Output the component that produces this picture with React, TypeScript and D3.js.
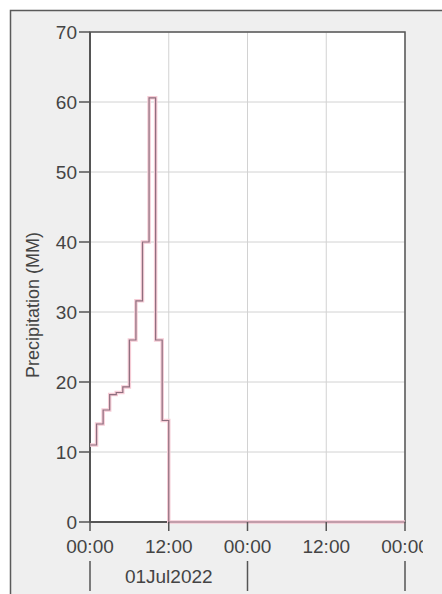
import React from "react";
import * as d3 from "d3";

const hours = [0, 1, 2, 3, 4, 5, 6, 7, 8, 9, 10, 11, 12, 48];
const precip = [11, 14, 16, 18.2, 18.5, 19.3, 26, 31.6, 40, 60.6, 26, 14.5, 0, 0];
const yTicks = [0, 10, 20, 30, 40, 50, 60, 70];
const xTickHours = [0, 12, 24, 36, 48];
const xTickLabels = ["00:00", "12:00", "00:00", "12:00", "00:00"];
const dateLabel = "01Jul2022";
const dayBoundaries = [0, 24, 48];
const yTitle = "Precipitation (MM)";

export default function App() {
  const W = 442, H = 594;
  const left = 90, right = 405, top = 32, bottom = 522;
  const x = d3.scaleLinear().domain([0, 48]).range([left, right]);
  const y = d3.scaleLinear().domain([0, 70]).range([bottom, top]);
  const pts: [number, number][] = hours.map((h, i) => [h, precip[i]]);
  const line = d3.line<[number, number]>()
    .x(d => x(d[0]))
    .y(d => y(d[1]))
    .curve(d3.curveStepAfter);
  const path = line(pts) || "";
  const font = "'Liberation Sans', Arial, sans-serif";
  return (
    <svg width={W} height={H} style={{ position: "absolute", left: 0, top: 0 }}>
      <defs>
        <clipPath id="labclip">
          <rect x={0} y={0} width={423} height={H} />
        </clipPath>
      </defs>
      <rect x={0} y={0} width={W} height={H} fill="#ffffff" />
      <rect x={10.5} y={10.5} width={440} height={600} fill="#efefef" stroke="#5a5a5a" strokeWidth={1.5} />
      <rect x={left} y={top} width={right - left} height={bottom - top} fill="#ffffff" />
      {yTicks.map(t => (
        <line key={"gy" + t} x1={left} x2={right} y1={y(t)} y2={y(t)} stroke="#d2d2d2" strokeWidth={1} />
      ))}
      {xTickHours.map(h => (
        <line key={"gx" + h} x1={x(h)} x2={x(h)} y1={top} y2={bottom} stroke="#d2d2d2" strokeWidth={1} />
      ))}
      <rect x={left} y={top} width={right - left} height={bottom - top} fill="none" stroke="#555" strokeWidth={1.5} />
      <line x1={left} x2={right} y1={bottom} y2={bottom} stroke="#555" strokeWidth={2} />
      <line x1={left} x2={left} y1={top} y2={bottom} stroke="#555" strokeWidth={2} />
      <path d={path} fill="none" stroke="#f6ccd6" strokeWidth={3.5} />
      <path d={path} fill="none" stroke="#8e6e7e" strokeWidth={1.2} />
      {yTicks.map(t => (
        <g key={"yt" + t}>
          <line x1={79} x2={left} y1={y(t)} y2={y(t)} stroke="#555" strokeWidth={1.5} />
          <text x={77} y={y(t)} dy="0.35em" textAnchor="end" fontFamily={font} fontSize={19} fill="#444">{t}</text>
        </g>
      ))}
      <g clipPath="url(#labclip)">
        {xTickHours.map((h, i) => (
          <g key={"xt" + h}>
            <line x1={x(h)} x2={x(h)} y1={bottom} y2={bottom + 9} stroke="#555" strokeWidth={1.5} />
            <text x={x(h)} y={553} textAnchor="middle" fontFamily={font} fontSize={19} fill="#444">{xTickLabels[i]}</text>
          </g>
        ))}
      </g>
      {dayBoundaries.map(h => (
        <line key={"db" + h} x1={x(h)} x2={x(h)} y1={561} y2={591} stroke="#555" strokeWidth={1.5} />
      ))}
      <text x={(x(0) + x(24)) / 2} y={583} textAnchor="middle" fontFamily={font} fontSize={19} fill="#444">{dateLabel}</text>
      <text transform={`translate(39,305) rotate(-90)`} textAnchor="middle" fontFamily={font} fontSize={18} fill="#444">{yTitle}</text>
    </svg>
  );
}
